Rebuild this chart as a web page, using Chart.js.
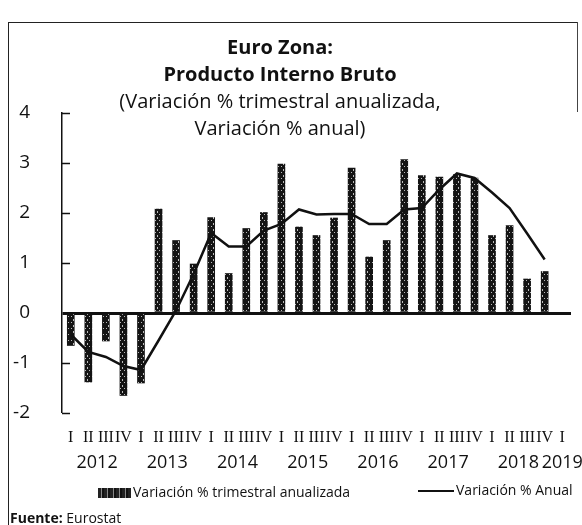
<!DOCTYPE html>
<html>
<head>
<meta charset="utf-8">
<script src="https://cdn.jsdelivr.net/npm/chart.js@4"></script>
<style>
  body { margin: 0; background: #fff; }
  #wrap { position: relative; width: 582px; height: 525px; font-family: 'Open Sans', sans-serif; color: #111; }
  #frame { position: absolute; left: 8px; top: 22px; width: 568px; height: 520px; border-left: 1.5px solid #222; border-top: 1.5px solid #222; }
  #frameR { position: absolute; left: 577px; top: 22px; width: 0; height: 90px; border-left: 1.5px solid #444; }
  #title { position: absolute; left: 0; top: 33px; width: 560px; text-align: center; font-size: 20px; line-height: 27px; }
  #title b { font-weight: 700; }
  canvas { position: absolute; left: 0; top: 0; }
  .leg { position: absolute; font-size: 14px; line-height: 18px; white-space: nowrap; }
  .sw { display: inline-block; vertical-align: middle; width: 33px; height: 10px; margin-right: 2px;
        background: repeating-linear-gradient(90deg, #222 0 3px, #888 3px 4px, #111 4px 6px); }
  .ln { display: inline-block; vertical-align: middle; width: 36px; height: 2px; background: #111; margin-right: 2px; }
  #fuente { position: absolute; left: 10px; top: 508px; font-size: 14px; }
</style>
</head>
<body>
<div id="wrap">
  <canvas id="chart" width="582" height="525"></canvas>
  <div id="frame"></div>
  <div id="frameR"></div>
  <div id="title"><b>Euro Zona:</b><br><b>Producto Interno Bruto</b><br>(Variación % trimestral anualizada,<br>Variación % anual)</div>
  <div class="leg" style="left:98px; top:483px;"><span class="sw"></span>Variación % trimestral anualizada</div>
  <div class="leg" style="left:418px; top:481px;"><span class="ln"></span>Variación % Anual</div>
  <div id="fuente"><b>Fuente:</b> Eurostat</div>
</div>
<script>
var trimestres = ['I','II','III','IV', 'I','II','III','IV', 'I','II','III','IV', 'I','II','III','IV',
                  'I','II','III','IV', 'I','II','III','IV', 'I','II','III','IV', 'I'];
var anios = ['2012','2013','2014','2015','2016','2017','2018','2019'];

// variación % trimestral anualizada (barras)
var trimestral = [-0.65, -1.38, -0.56, -1.65,
                  -1.40,  2.08,  1.45,  0.98,
                   1.91,  0.79,  1.69,  2.01,
                   2.98,  1.72,  1.55,  1.90,
                   2.90,  1.12,  1.45,  3.07,
                   2.75,  2.72,  2.77,  2.70,
                   1.55,  1.75,  0.68,  0.83,
                   null];

// variación % anual (línea)
var anual = [-0.43, -0.78, -0.88, -1.06,
             -1.14, -0.55,  0.05,  0.78,
              1.60,  1.33,  1.33,  1.65,
              1.78,  2.07,  1.97,  1.98,
              1.98,  1.78,  1.78,  2.07,
              2.10,  2.47,  2.79,  2.70,
              2.41,  2.10,  1.59,  1.07,
              null];

function makePattern() {
  var c = document.createElement('canvas');
  c.width = 7; c.height = 6;
  var g = c.getContext('2d');
  g.fillStyle = '#141414';
  g.fillRect(0, 0, 7, 6);
  g.fillStyle = '#bbb';
  g.fillRect(3, 1, 1, 2);
  g.fillRect(5, 4, 1, 1);
  g.fillRect(1, 4, 1, 1);
  return g.createPattern(c, 'repeat');
}

var extras = {
  id: 'extras',
  afterDraw: function (chart) {
    var ctx = chart.ctx, area = chart.chartArea;
    var x = chart.scales.x, y = chart.scales.y;
    ctx.save();
    // marcas del eje y hacia dentro
    ctx.strokeStyle = '#111';
    ctx.lineWidth = 1.5;
    [-2, -1, 1, 2, 3, 4].forEach(function (v) {
      var py = Math.round(y.getPixelForValue(v)) + 0.5;
      ctx.beginPath();
      ctx.moveTo(area.left, py);
      ctx.lineTo(area.left + 8, py);
      ctx.stroke();
    });
    // años debajo de los trimestres
    ctx.fillStyle = '#111';
    ctx.font = '18px "Open Sans"';
    ctx.textAlign = 'center';
    ctx.textBaseline = 'middle';
    anios.forEach(function (a, k) {
      var first = k * 4, last = Math.min(k * 4 + 3, trimestres.length - 1);
      var cx = (x.getPixelForValue(first) + x.getPixelForValue(last)) / 2;
      ctx.fillText(a, cx, 463);
    });
    ctx.restore();
  }
};

var ctx = document.getElementById('chart').getContext('2d');
new Chart(ctx, {
  type: 'bar',
  data: {
    labels: trimestres,
    datasets: [
      {
        type: 'line',
        label: 'Variación % Anual',
        data: anual,
        borderColor: '#111',
        borderWidth: 2.5,
        pointRadius: 0,
        tension: 0,
        order: 0
      },
      {
        type: 'bar',
        label: 'Variación % trimestral anualizada',
        data: trimestral,
        backgroundColor: makePattern(),
        barThickness: 7,
        order: 1
      }
    ]
  },
  options: {
    responsive: false,
    animation: false,
    layout: { padding: { top: 113, right: 11, bottom: 0, left: 0 } },
    plugins: {
      legend: { display: false },
      title: { display: false },
      tooltip: { enabled: false }
    },
    scales: {
      x: {
        grid: { display: false, drawTicks: false },
        border: { display: false },
        ticks: {
          autoSkip: false, maxRotation: 0, minRotation: 0, padding: 15,
          color: '#111',
          font: { family: 'Liberation Serif', size: 16 }
        },
        afterFit: function (s) { s.height = 112; }
      },
      y: {
        min: -2, max: 4,
        ticks: {
          stepSize: 1, padding: 32, color: '#111',
          font: { family: 'Open Sans', size: 19 }
        },
        grid: {
          drawTicks: false,
          color: function (c) { return c.tick && c.tick.value === 0 ? '#111' : 'rgba(0,0,0,0)'; },
          lineWidth: function (c) { return c.tick && c.tick.value === 0 ? 3 : 0; }
        },
        border: { color: '#111', width: 1.5 },
        afterFit: function (s) { s.width = 62; }
      }
    }
  },
  plugins: [extras]
});
</script>
</body>
</html>
